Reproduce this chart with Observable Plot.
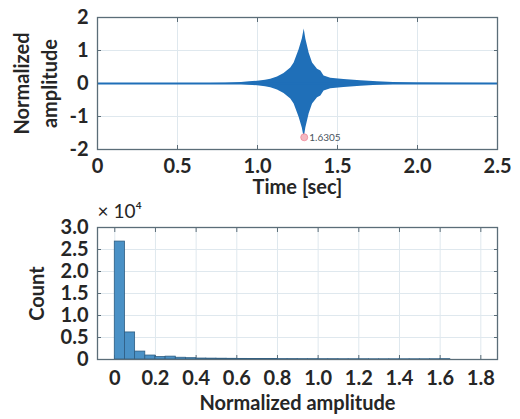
<!DOCTYPE html>
<html>
<head>
<meta charset="utf-8">
<script src="https://cdn.jsdelivr.net/npm/d3@7"></script>
<script src="https://cdn.jsdelivr.net/npm/@observablehq/plot@0.6"></script>
<style>
  html, body { margin: 0; padding: 0; background: #fff; }
  #chart { width: 520px; }
  #chart svg { display: block; overflow: visible; }
</style>
</head>
<body>
<div id="chart"></div>
<script>
// Top panel: envelope of the waveform
const waveTime = [0, 0.7, 0.8, 0.9, 0.95, 1.0, 1.05, 1.083, 1.125, 1.166, 1.208, 1.229, 1.26, 1.28, 1.292, 1.302, 1.323, 1.344, 1.375, 1.396, 1.416, 1.458, 1.54, 1.646, 1.75, 1.85, 2.0, 2.2, 2.5];
const waveEnvelope = [0, 0, 0.01, 0.03, 0.05, 0.07, 0.1, 0.13, 0.2, 0.3, 0.47, 0.62, 1.02, 1.35, 1.65, 1.35, 0.92, 0.62, 0.43, 0.38, 0.23, 0.16, 0.12, 0.08, 0.05, 0.03, 0.015, 0.005, 0];
const peakTime = [1.292];
const peakValue = [-1.6305];
const peakLabel = ["1.6305"];
const timeTicks = [0, 0.5, 1.0, 1.5, 2.0, 2.5];
const timeLabels = ["0", "0.5", "1.0", "1.5", "2.0", "2.5"];
const ampTicks = [-2, -1, 0, 1, 2];
const ampLabels = ["-2", "-1", "0", "1", "2"];
const topXTitle = ["Time [sec]"];
const topYTitle = ["Normalized\namplitude"];

// Bottom panel: histogram (bin width 0.05, counts ×10^4)
const binStart = [0, 0.05, 0.1, 0.15, 0.2, 0.25, 0.3, 0.35, 0.4, 0.45, 0.5, 0.55, 0.6, 0.65, 0.7, 0.75, 0.8, 0.85, 0.9, 0.95, 1.0, 1.05, 1.1, 1.15, 1.2, 1.25, 1.3, 1.35, 1.4, 1.45, 1.5, 1.55, 1.6];
const binCount = [2.68, 0.615, 0.18, 0.09, 0.055, 0.065, 0.04, 0.03, 0.022, 0.02, 0.018, 0.016, 0.014, 0.012, 0.011, 0.01, 0.009, 0.009, 0.008, 0.008, 0.007, 0.007, 0.006, 0.006, 0.006, 0.005, 0.005, 0.005, 0.005, 0.005, 0.005, 0.006, 0.008];
const binWidth = 0.05;
const histXTicks = [0, 0.2, 0.4, 0.6, 0.8, 1.0, 1.2, 1.4, 1.6, 1.8];
const histXLabels = ["0", "0.2", "0.4", "0.6", "0.8", "1.0", "1.2", "1.4", "1.6", "1.8"];
const countTicks = [0, 0.5, 1.0, 1.5, 2.0, 2.5, 3.0];
const countLabels = ["0", "0.5", "1.0", "1.5", "2.0", "2.5", "3.0"];
const bottomXTitle = ["Normalized amplitude"];
const bottomYTitle = ["Count"];
const countMultiplier = ["× 10⁴"];

const wave = waveTime.map((t, i) => ({t, e: waveEnvelope[i]}));
const bins = binStart.map((x, i) => ({x1: x, x2: x + binWidth, y: binCount[i]}));
const peak = peakTime.map((t, i) => ({t, v: peakValue[i], label: peakLabel[i]}));

const FONT = "Lato, 'Open Sans', sans-serif";
const TEXT = "#262626";
const FRAME = "#5b6d78";
const GRID = "#dfe8ee";
const BLUE = "#1f6fb8";
const FS = 20;

function innerTicks(xt, yt) {
  return [
    Plot.axisX(xt, {anchor: "bottom", tickSize: -4, text: null, label: null, stroke: FRAME}),
    Plot.axisX(xt, {anchor: "top", tickSize: -4, text: null, label: null, stroke: FRAME}),
    Plot.axisY(yt, {anchor: "left", tickSize: -4, text: null, label: null, stroke: FRAME}),
    Plot.axisY(yt, {anchor: "right", tickSize: -4, text: null, label: null, stroke: FRAME})
  ];
}

const topPanel = Plot.plot({
  width: 520,
  height: 200,
  marginLeft: 97,
  marginRight: 23,
  marginTop: 17,
  marginBottom: 51,
  style: {fontFamily: FONT, fontSize: FS + "px", fontWeight: 700, color: TEXT, background: "#fff"},
  x: {domain: [0, 2.5]},
  y: {domain: [-2, 2]},
  marks: [
    Plot.gridX(timeTicks, {stroke: GRID, strokeOpacity: 1}),
    Plot.gridY(ampTicks, {stroke: GRID, strokeOpacity: 1}),
    ...innerTicks(timeTicks, ampTicks),
    Plot.axisX(timeTicks, {tickSize: 0, tickPadding: 9, fontSize: FS, fontWeight: 700,
      tickFormat: (d, i) => timeLabels[i], label: null}),
    Plot.axisY(ampTicks, {tickSize: 0, tickPadding: 9, fontSize: FS, fontWeight: 700,
      tickFormat: (d, i) => ampLabels[i], label: null}),
    Plot.text(topXTitle, {frameAnchor: "bottom", dy: 38, lineAnchor: "middle", textAnchor: "middle", fontSize: FS, fontWeight: 700, fill: TEXT}),
    Plot.text(topYTitle, {frameAnchor: "left", dx: -63, rotate: -90, textAnchor: "middle", lineAnchor: "middle", lineHeight: 1.4, fontSize: FS, fontWeight: 700, fill: TEXT}),
    Plot.areaY(wave, {x: "t", y1: d => -d.e, y2: "e", fill: BLUE, curve: "linear"}),
    Plot.ruleY([0], {stroke: BLUE, strokeWidth: 2}),
    Plot.dot(peak, {x: "t", y: "v", r: 3.5, fill: "#f4b8c0", stroke: "#f08a9a", strokeWidth: 0.8}),
    Plot.text(peak, {x: "t", y: "v", text: "label", dx: 5, textAnchor: "start", fontSize: 10, fontWeight: 400, fill: "#4a5560"}),
    Plot.frame({stroke: FRAME, strokeWidth: 1.3})
  ]
});

const bottomPanel = Plot.plot({
  width: 520,
  height: 219,
  marginLeft: 97,
  marginRight: 23,
  marginTop: 27,
  marginBottom: 60,
  style: {fontFamily: FONT, fontSize: FS + "px", fontWeight: 700, color: TEXT, background: "#fff"},
  x: {domain: [-0.085, 1.882]},
  y: {domain: [0, 3.0]},
  marks: [
    Plot.gridX(histXTicks, {stroke: GRID, strokeOpacity: 1}),
    Plot.gridY(countTicks, {stroke: GRID, strokeOpacity: 1}),
    ...innerTicks(histXTicks, countTicks),
    Plot.axisX(histXTicks, {tickSize: 0, tickPadding: 11, fontSize: FS, fontWeight: 700,
      tickFormat: (d, i) => histXLabels[i], label: null}),
    Plot.axisY(countTicks, {tickSize: 0, tickPadding: 9, fontSize: FS, fontWeight: 700,
      tickFormat: (d, i) => countLabels[i], label: null}),
    Plot.text(bottomXTitle, {frameAnchor: "bottom", dy: 44, lineAnchor: "middle", textAnchor: "middle", fontSize: FS, fontWeight: 700, fill: TEXT}),
    Plot.text(bottomYTitle, {frameAnchor: "left", dx: -60, rotate: -90, textAnchor: "middle", lineAnchor: "middle", fontSize: FS, fontWeight: 700, fill: TEXT}),
    Plot.rectY(bins, {x1: "x1", x2: "x2", y: "y", fill: "#4a91c6", stroke: "#2d5d82", strokeWidth: 0.8}),
    Plot.text(countMultiplier, {frameAnchor: "top-left", dy: -16, textAnchor: "start", lineAnchor: "middle", fontSize: 19, fontWeight: 400, fill: TEXT}),
    Plot.frame({stroke: FRAME, strokeWidth: 1.3})
  ]
});

document.getElementById("chart").append(topPanel, bottomPanel);
</script>
</body>
</html>
